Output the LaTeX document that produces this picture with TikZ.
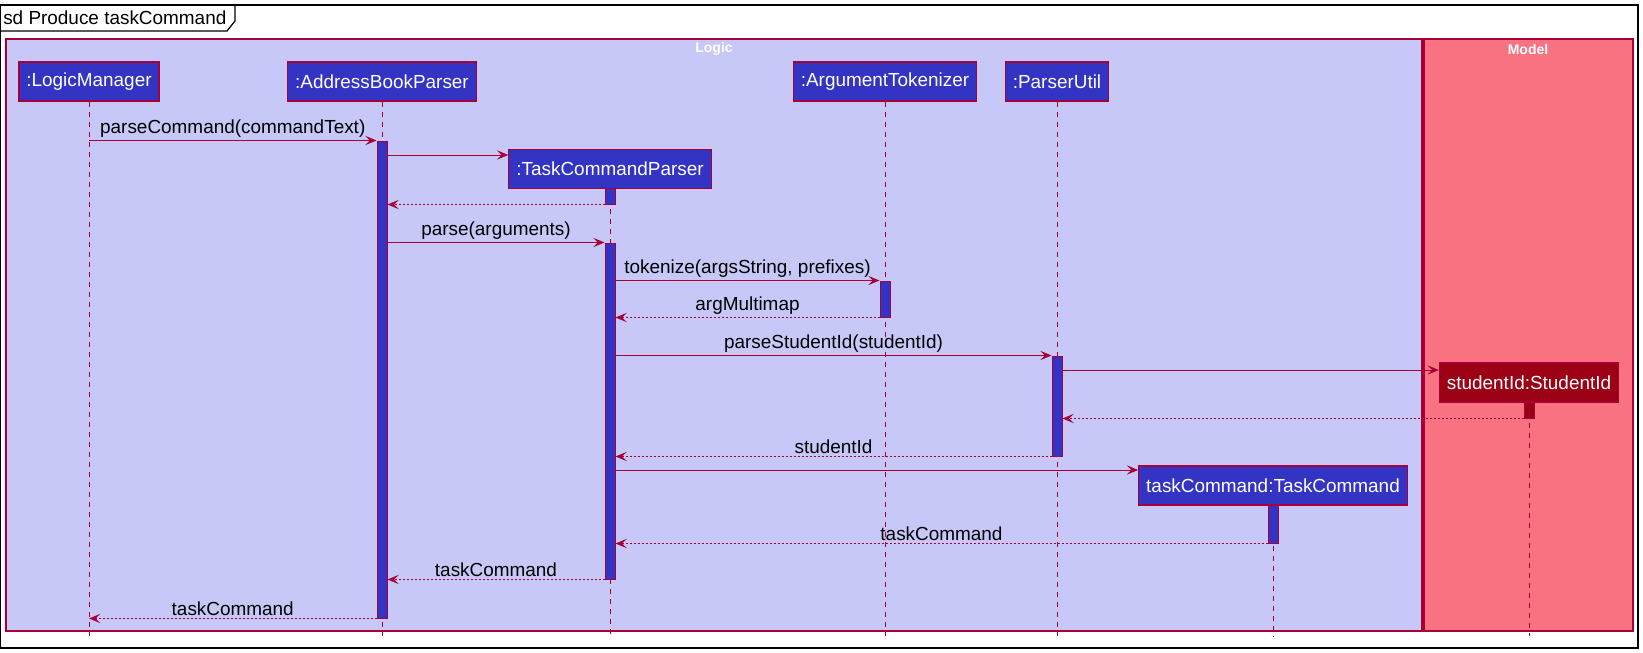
\documentclass[tikz,border=0pt]{standalone}
\usepackage{fontspec}
\setmainfont{Liberation Sans}
\usetikzlibrary{arrows.meta}

\definecolor{umlred}{HTML}{A80036}
\definecolor{partblue}{HTML}{3333C4}
\definecolor{logicbg}{HTML}{C8C8F8}
\definecolor{modelbg}{HTML}{F97282}
\definecolor{modelpart}{HTML}{9C0014}

\tikzset{
  participant/.style={draw=umlred, fill=partblue, text=white, line width=0.9pt,
    minimum height=29.25pt, inner xsep=5.6pt, font=\fontsize{14.2}{17}\selectfont},
  lifeline/.style={umlred, line width=0.75pt, dash pattern=on 3.75pt off 3.75pt},
  act/.style={draw=umlred, fill=partblue, line width=0.75pt, minimum width=7.5pt, inner sep=0pt},
  msg/.style={umlred, line width=0.75pt, -{Stealth[length=8.5pt, width=7pt, inset=3.5pt]}},
  ret/.style={msg, dash pattern=on 1.5pt off 1.5pt},
  msglabel/.style={above, inner sep=2pt, text=black, font=\fontsize{14.2}{17}\selectfont},
  group/.style={draw=umlred, line width=0.9pt},
  grouplabel/.style={text=white, font=\bfseries\fontsize{10.5}{12}\selectfont}
}

\begin{document}
\begin{tikzpicture}[x=0.75pt, y=-0.75pt]
	\useasboundingbox (0,0) rectangle (1643,653);

	% frame
	\draw[line width=0.9pt] (0.5,5) rectangle (1638,648);
	\draw[line width=0.9pt] (0.5,31) -- (227,31) -- (235,21) -- (235,5);
	\node[anchor=west, inner sep=0pt, font=\fontsize{14.2}{17}\selectfont] (title) at (3,18) {sd Produce taskCommand};

	% boxes
	\draw[group, fill=logicbg] (6,39) rectangle (1422,631);
	\draw[group, fill=modelbg] (1424,39) rectangle (1633,631);
	\node[grouplabel] (logic) at (714,49) {Logic};
	\node[grouplabel] (model) at (1528,49) {Model};

	% participants
	\node[participant] (lm) at (89,81.5) {:LogicManager};
	\node[participant] (abp) at (382,81.5) {:AddressBookParser};
	\node[participant] (at) at (885,81.5) {:ArgumentTokenizer};
	\node[participant] (pu) at (1057,81.5) {:ParserUtil};
	\node[participant] (tcp) at (610,169) {:TaskCommandParser};
	\node[participant, fill=modelpart] (sid) at (1529,382.5) {studentId:StudentId};
	\node[participant] (tc) at (1273,485.5) {taskCommand:TaskCommand};

	% lifelines
	\foreach \p in {lm, abp, at, pu, tcp, sid, tc}
		\draw[lifeline] (\p.south) -- (\p.south |- 0,636);

	% activations
	\node[act, minimum height=357.75pt] (abp1) at (382,379.5) {};
	\node[act, minimum height=12pt] (tcp0) at (610,196) {};
	\node[act, minimum height=252pt] (tcp1) at (610,411) {};
	\node[act, minimum height=27pt] (at1) at (885,299) {};
	\node[act, minimum height=75pt] (pu1) at (1057,406) {};
	\node[act, fill=modelpart, minimum height=12pt] (sid1) at (1529,410) {};
	\node[act, minimum height=28.5pt] (tc1) at (1273,524) {};

	% messages
	\draw[msg] (lm |- abp1.north) -- (abp1.north west) node[msglabel, midway] {parseCommand(commandText)};
	\draw[msg] (abp1.east |- 0,155) -- (tcp.west |- 0,155);
	\draw[ret] (tcp0.south west) -- (abp1.east |- tcp0.south);
	\draw[msg] (abp1.east |- tcp1.north) -- (tcp1.north west) node[msglabel, midway] {parse(arguments)};
	\draw[msg] (tcp1.east |- at1.north) -- (at1.north west) node[msglabel, midway] {tokenize(argsString, prefixes)};
	\draw[ret] (at1.south west) -- (tcp1.east |- at1.south) node[msglabel, midway] {argMultimap};
	\draw[msg] (tcp1.east |- pu1.north) -- (pu1.north west) node[msglabel, midway] {parseStudentId(studentId)};
	\draw[msg] (pu1.east |- 0,370) -- (sid.west |- 0,370);
	\draw[ret] (sid1.south west) -- (pu1.east |- sid1.south);
	\draw[ret] (pu1.south west) -- (tcp1.east |- pu1.south) node[msglabel, midway] {studentId};
	\draw[msg] (tcp1.east |- 0,470) -- (tc.west |- 0,470);
	\draw[ret] (tc1.south west) -- (tcp1.east |- tc1.south) node[msglabel, midway] {taskCommand};
	\draw[ret] (tcp1.south west) -- (abp1.east |- tcp1.south) node[msglabel, midway] {taskCommand};
	\draw[ret] (abp1.south west) -- (lm |- abp1.south) node[msglabel, midway] {taskCommand};
\end{tikzpicture}
\end{document}
